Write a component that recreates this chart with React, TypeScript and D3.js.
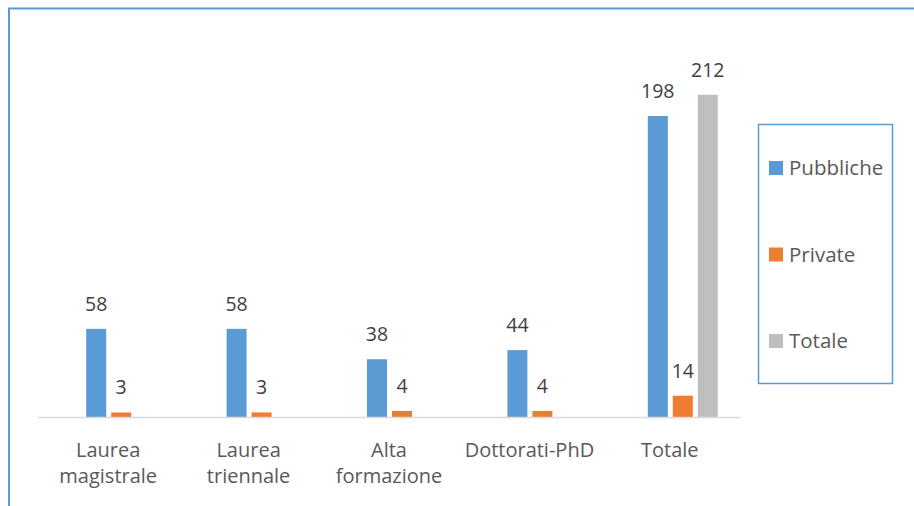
import React, { useEffect, useRef } from "react";
import * as d3 from "d3";

// categories (two-line labels)
const categories = ["Laurea magistrale", "Laurea triennale", "Alta formazione", "Dottorati-PhD", "Totale"];
const categoryLines = [["Laurea", "magistrale"], ["Laurea", "triennale"], ["Alta", "formazione"], ["Dottorati-PhD"], ["Totale"]];

// series
const seriesNames = ["Pubbliche", "Private", "Totale"];
const pubbliche = [58, 58, 38, 44, 198];
const private_ = [3, 3, 4, 4, 14];
const totale = [null, null, null, null, 212];

const colors = ["#5b9bd5", "#ed7d31", "#bfbfbf"];

const W = 914;
const H = 506;
const FONT = "'Open Sans', 'Liberation Sans', sans-serif";

const App = () => {
    const svgRef = useRef<SVGSVGElement>(null);

    useEffect(() => {
        const svg = d3.select(svgRef.current);
        svg.selectAll("*").remove();

        // outer frame (only top and left visible)
        svg.append("path")
            .attr("d", `M9,${H} L9,8.5 L${W},8.5`)
            .attr("fill", "none")
            .attr("stroke", "#5b9bd5")
            .attr("stroke-width", 2);

        const x = d3.scaleBand().domain(categories).range([38, 740]);
        const y = d3.scaleLinear().domain([0, 250]).range([417, 37]);

        // bar offsets relative to category center
        const barW = 20;
        const offsets = [-22, 3, 28];
        const allSeries = [pubbliche, private_, totale];

        allSeries.forEach((vals, si) => {
            const data = categories.map((c, i) => ({ c, v: vals[i] })).filter(d => d.v != null) as { c: string; v: number }[];
            const g = svg.append("g");
            g.selectAll("rect")
                .data(data)
                .join("rect")
                .attr("x", d => x(d.c)! + x.bandwidth() / 2 + offsets[si])
                .attr("y", d => y(d.v))
                .attr("width", barW)
                .attr("height", d => y(0) - y(d.v))
                .attr("fill", colors[si]);
            g.selectAll("text")
                .data(data)
                .join("text")
                .attr("x", d => x(d.c)! + x.bandwidth() / 2 + offsets[si] + barW / 2)
                .attr("y", d => y(d.v) - 18)
                .attr("text-anchor", "middle")
                .attr("font-family", FONT)
                .attr("font-size", 19.5)
                .attr("fill", "#404040")
                .text(d => String(d.v));
        });

        // x axis line
        svg.append("line")
            .attr("x1", 38).attr("x2", 740)
            .attr("y1", y(0) + 0.5).attr("y2", y(0) + 0.5)
            .attr("stroke", "#d9d9d9")
            .attr("stroke-width", 1.5);

        // category labels
        categories.forEach((c, i) => {
            const t = svg.append("text")
                .attr("text-anchor", "middle")
                .attr("font-family", FONT)
                .attr("font-size", 20)
                .attr("fill", "#595959");
            categoryLines[i].forEach((line, li) => {
                t.append("tspan")
                    .attr("x", x(c)! + x.bandwidth() / 2)
                    .attr("y", 457 + li * 26)
                    .text(line);
            });
        });

        // legend
        const legend = svg.append("g");
        legend.append("rect")
            .attr("x", 758.5).attr("y", 124.5)
            .attr("width", 134).attr("height", 259)
            .attr("fill", "white")
            .attr("stroke", "#5b9bd5")
            .attr("stroke-width", 1.5);
        seriesNames.forEach((name, i) => {
            const ly = 161 + i * 86.5;
            legend.append("rect")
                .attr("x", 769).attr("y", ly)
                .attr("width", 14).attr("height", 14)
                .attr("fill", colors[i]);
            legend.append("text")
                .attr("x", 789).attr("y", ly + 14)
                .attr("font-family", FONT)
                .attr("font-size", 20.5)
                .attr("fill", "#595959")
                .text(name);
        });
    }, []);

    return (
        <svg
            ref={svgRef}
            width={W}
            height={H}
            style={{ position: "absolute", left: 0, top: 0, background: "white" }}
        />
    );
};

export default App;
